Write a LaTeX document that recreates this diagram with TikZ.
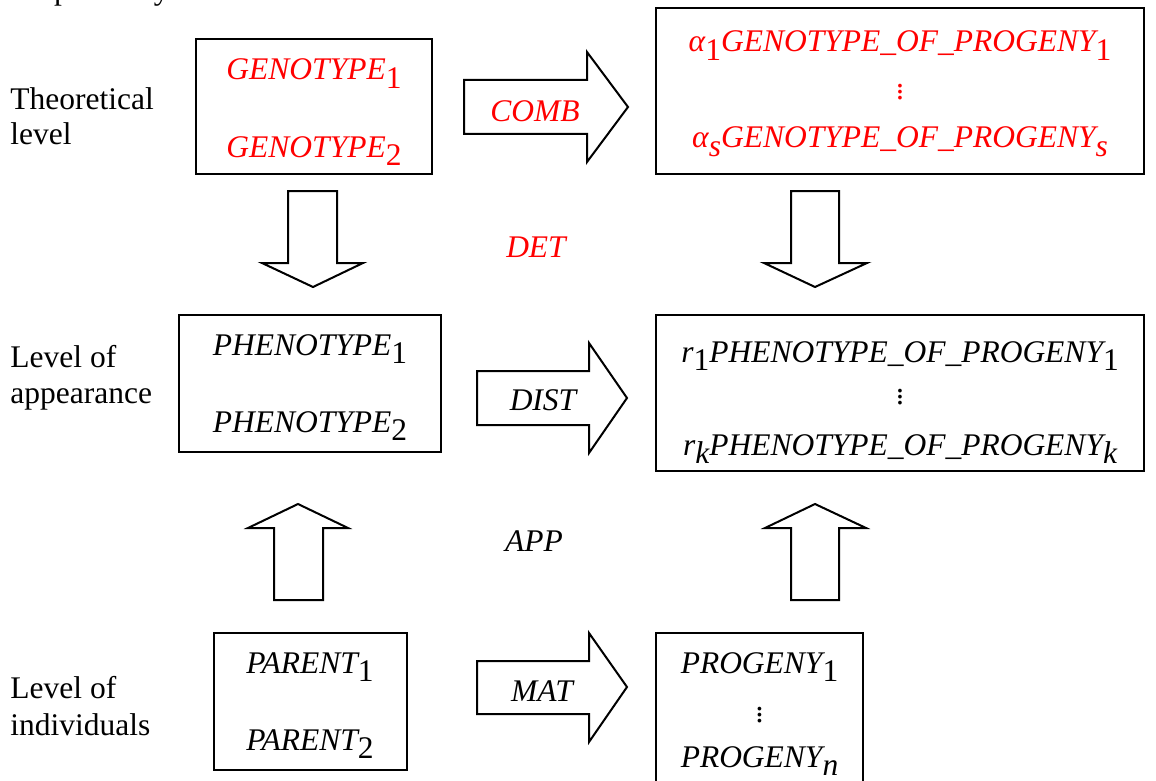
\documentclass[tikz,border=0pt]{standalone}
\usepackage{fontspec}
\setmainfont{Liberation Serif}
% lowered full-size index: upright digits, italic letters
\newcommand{\low}[1]{\raisebox{-0.26em}{#1}}
\newcommand{\dn}[1]{\low{\upshape #1}}
% tight vertical ellipsis
\newcommand{\vdts}{\vbox{\baselineskip=3pt \lineskiplimit=0pt \hbox{.}\hbox{.}\hbox{.}}}
\tikzset{
  txt/.style={font=\fontsize{15.75}{18}\selectfont, inner sep=0pt, anchor=base},
  lvl/.style={txt, anchor=base west},
  itx/.style={txt, font=\fontsize{15.75}{18}\selectfont\itshape},
  box/.style={draw, line width=1pt, inner sep=0pt, outer sep=0pt},
  blk/.style={draw, line width=1pt, line join=miter, fill=white},
  theo/.style={text=red}
}
\begin{document}
\begin{tikzpicture}[x=0.5pt, y=-0.5pt]
\useasboundingbox (0,0) rectangle (1156,781);

% fragment of the preceding line of text
\begin{scope}
  \clip (0,0) rectangle (1156,781);
  \node[lvl] (prev) at (17,0) {respectively};
\end{scope}

% level labels
\node[lvl] (lt1) at (10,110) {Theoretical};
\node[lvl] (lt2) at (10,145) {level};
\node[lvl] (la1) at (10,367) {Level of};
\node[lvl] (la2) at (10,403) {appearance};
\node[lvl] (li1) at (10,698) {Level of};
\node[lvl] (li2) at (10,735) {individuals};

% boxes
\node[box, minimum width=118pt, minimum height=67.5pt] (gen) at (314,106.5) {};
\node[box, minimum width=244pt, minimum height=83pt] (genp) at (900,91) {};
\node[box, minimum width=131pt, minimum height=68.5pt] (phe) at (310,383.5) {};
\node[box, minimum width=244pt, minimum height=78pt] (phep) at (900,393) {};
\node[box, minimum width=96.5pt, minimum height=68.5pt] (par) at (310.5,701.5) {};
\begin{scope}
  \clip (0,0) rectangle (1156,781);
  \node[box, minimum width=103.5pt, minimum height=87.5pt] (prog) at (759.5,720.5) {};
\end{scope}

% theoretical level (red)
\node[itx, theo] (g1) at (314,80) {GENOTYPE\dn{1}};
\node[itx, theo] (g2) at (314,157) {GENOTYPE\dn{2}};
\node[itx, theo] (gp1) at (900,52) {α\dn{1}GENOTYPE\_OF\_PROGENY\dn{1}};
\node[txt, theo, anchor=center] (gpd) at (900,92) {\vdts};
\node[itx, theo] (gps) at (900,148) {α\low{s}GENOTYPE\_OF\_PROGENY\low{s}};

% level of appearance
\node[itx] (p1) at (310,355) {PHENOTYPE\dn{1}};
\node[itx] (p2) at (310,432) {PHENOTYPE\dn{2}};
\node[itx] (pp1) at (900,362) {r\dn{1}PHENOTYPE\_OF\_PROGENY\dn{1}};
\node[txt, anchor=center] (ppd) at (900,397) {\vdts};
\node[itx] (ppk) at (900,455) {r\low{k}PHENOTYPE\_OF\_PROGENY\low{k}};

% level of individuals
\node[itx] (a1) at (310,673) {PARENT\dn{1}};
\node[itx] (a2) at (310,750) {PARENT\dn{2}};
\node[itx] (o1) at (759.5,673) {PROGENY\dn{1}};
\node[txt, anchor=center] (od) at (759.5,715) {\vdts};
\node[itx] (on) at (759.5,767) {PROGENY\low{n}};

% horizontal block arrows
\draw[blk] (464,80) -- (587,80) -- (587,52) -- (628,107) -- (587,162) -- (587,134) -- (464,134) -- cycle;
\draw[blk] (477,371) -- (589,371) -- (589,343) -- (627,398) -- (589,453) -- (589,425) -- (477,425) -- cycle;
\draw[blk] (477,661) -- (589,661) -- (589,633) -- (627,687) -- (589,742) -- (589,714) -- (477,714) -- cycle;

% vertical block arrows
\draw[blk] (288,191) -- (337,191) -- (337,263) -- (363,263) -- (313,287) -- (262,263) -- (288,263) -- cycle;
\draw[blk] (791,191) -- (839,191) -- (839,263) -- (867,263) -- (815,287) -- (764,263) -- (791,263) -- cycle;
\draw[blk] (274,600) -- (323,600) -- (323,528) -- (348,528) -- (298,504) -- (248,528) -- (274,528) -- cycle;
\draw[blk] (791,600) -- (839,600) -- (839,528) -- (866,528) -- (815,504) -- (765,528) -- (791,528) -- cycle;

% mapping names
\node[itx, theo] (comb) at (535,121) {COMB};
\node[itx] (dist) at (543,410) {DIST};
\node[itx] (mat) at (542,701) {MAT};
\node[itx, theo] (det) at (536,257) {DET};
\node[itx] (app) at (534,551) {APP};
\end{tikzpicture}
\end{document}
